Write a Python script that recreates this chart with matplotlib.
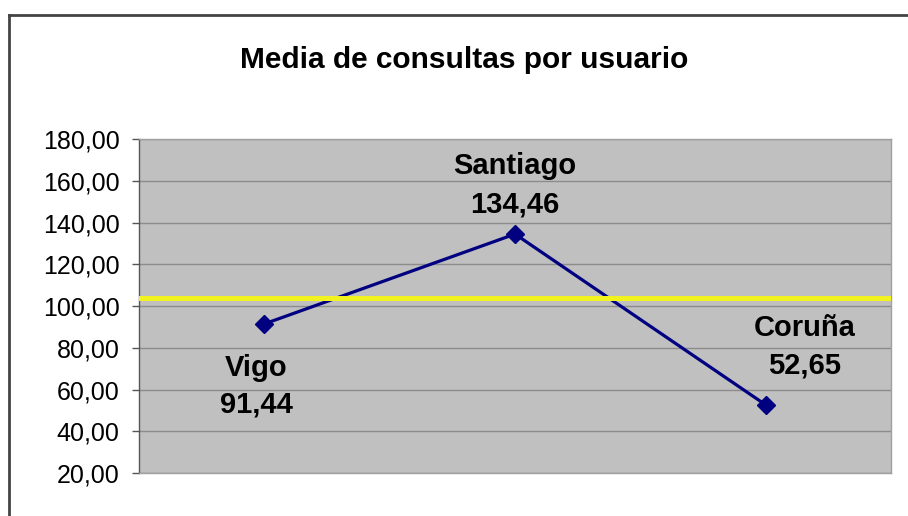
import matplotlib
matplotlib.use('Agg')
import matplotlib.pyplot as plt
from matplotlib.lines import Line2D
from matplotlib.ticker import FuncFormatter

plt.rcParams['font.family'] = ['Liberation Sans', 'DejaVu Sans']

# Data
cities = ['Vigo', 'Santiago', 'Coruña']
media = [91.44, 134.46, 52.65]
reference = 103.9  # yellow line
y_ticks = [20, 40, 60, 80, 100, 120, 140, 160, 180]

# label offsets in pixels (name, value) relative to each point
name_offsets = [(-8, -44), (0, 68), (39, 77)]
value_offsets = [(-8, -81), (0, 30), (39, 39)]

fig = plt.figure(figsize=(9.08, 5.16), dpi=100)
ax = fig.add_axes([0.1531, 0.0833, 0.8282, 0.6473])
ax.set_facecolor('#c0c0c0')

x = list(range(len(cities)))
ax.plot(x, media, color='#000080', linewidth=2.3, marker='D', markersize=9,
        markerfacecolor='#000080', markeredgecolor='#000080', zorder=3)
ax.axhline(reference, color='#f2f21e', linewidth=3.6, zorder=4)

for i, (c, v) in enumerate(zip(cities, media)):
    ax.annotate(c, (i, v), xytext=name_offsets[i], textcoords='offset pixels',
                ha='center', va='center', fontsize=21, fontweight='bold', zorder=5)
    ax.annotate('{:.2f}'.format(v).replace('.', ','), (i, v), xytext=value_offsets[i],
                textcoords='offset pixels', ha='center', va='center',
                fontsize=21, fontweight='bold', zorder=5)

ax.set_xlim(-0.5, 2.5)
ax.set_ylim(20, 180)
ax.set_yticks(y_ticks)
ax.yaxis.set_major_formatter(FuncFormatter(lambda v, p: '{:.2f}'.format(v).replace('.', ',')))
ax.set_xticks([])
ax.grid(axis='y', color='#8c8c8c', linewidth=1)
ax.set_axisbelow(True)
ax.tick_params(axis='y', direction='out', length=5, width=1, color='#555555',
               labelsize=18, pad=9)
for s in ['top', 'right', 'bottom']:
    ax.spines[s].set_color('#a0a0a0')
    ax.spines[s].set_linewidth(1)
ax.spines['left'].set_color('#555555')
ax.spines['left'].set_linewidth(1)

fig.text(464 / 908, 1 - 60 / 516, 'Media de consultas por usuario', ha='center', va='center',
         fontsize=21.5, fontweight='bold')

# outer chart frame (top and left edges)
fig.add_artist(Line2D([9 / 908, 1], [1 - 15 / 516, 1 - 15 / 516], color='#444444', linewidth=2))
fig.add_artist(Line2D([9 / 908, 9 / 908], [0, 1 - 15 / 516], color='#444444', linewidth=2))

fig.savefig('out.png', dpi=100)
